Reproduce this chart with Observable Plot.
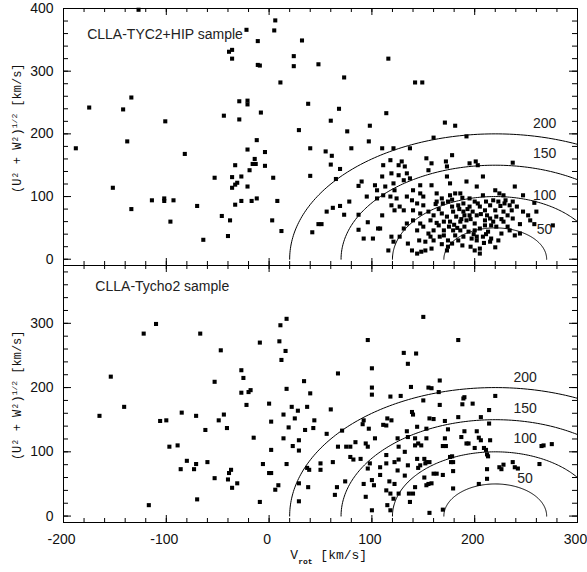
<!DOCTYPE html>
<html>
<head>
<meta charset="utf-8">
<script src="https://cdn.jsdelivr.net/npm/d3@7"></script>
<script src="https://cdn.jsdelivr.net/npm/@observablehq/plot@0.6"></script>
<style>
  html, body { margin: 0; padding: 0; background: #fff; }
  #chart { position: relative; width: 587px; height: 572px; }
  #chart svg { position: absolute; left: 0; }
</style>
</head>
<body>
<div id="chart"></div>
<script>
// ---------- data ----------
const topTitle = "CLLA-TYC2+HIP sample";
const botTitle = "CLLA-Tycho2 sample";
const yLabel = "(U² + W²)1/2 [km/s]";
const xLabel = "Vrot [km/s]";

const xMajor = [-200, -100, 0, 100, 200, 300];
const yMajorTop = [0, 100, 200, 300, 400];
const yMajorBot = [0, 100, 200, 300];

const vLSR = 220;                 // centre of the velocity rings
const ringRadii = [50, 100, 150, 200];
const ringLabels = ["50", "100", "150", "200"];
const topRingLabelU = [48, 102, 168, 216];
const botRingLabelU = [58, 121, 168, 215];

// [V_rot, (U^2+W^2)^1/2] for CLLA-TYC2+HIP sample
const topStars = [
  [-188,177],[-175,242],[-152,114],[-142,239],[-138,188],[-134,258],[-134,80],[-127,398],[-114,94],[-102,97],
  [-102,93],[-101,220],[-96,60],[-93,94],[-82,168],[-70,85],[-64,31],[-53,130],[-46,69],[-44,229],
  [-40,37],[-38,62],[-39,331],[-36,334],[-36,320],[-36,131],[-36,114],[-33,150],[-33,119],[-31,122],
  [-33,87],[-29,252],[-29,223],[-27,132],[-27,93],[-22,366],[-21,253],[-21,247],[-21,175],[-21,116],
  [-19,142],[-17,93],[-16,152],[-14,160],[-13,152],[-12,190],[-12,97],[-11,348],[-11,310],[-9,309],
  [-8,234],[-4,171],[-4,149],[4,130],[3,62],[5,365],[6,381],[8,93],[11,282],[12,45],
  [24,308],[24,324],[29,206],
  [32,349],[48,311],[73,290],[116,320],[142,282],[149,282],[38,248],[68,240],[60,221],[76,204],
  [98,213],[114,233],[97,188],[171,218],[181,213],[160,194],[192,196],[40,177],[55,172],[61,165],
  [80,177],[60,151],[69,144],[40,133],[65,128],[87,117],[90,124],[42,43],[48,56],[51,56],
  [56,76],[62,82],[69,85],[73,71],[78,92],[87,71],[87,47],[92,33],[96,59],[95,100],
  [110,177],[121,177],[137,177],[178,166],
  [111,150],[118,158],[126,150],[129,156],[132,148],[153,161],[158,153],[155,142],[172,156],[173,148],[195,153],[203,150],
  [110,132],[119,137],[126,134],[131,126],[134,137],[137,129],[147,118],[158,118],[173,132],[176,121],[192,124],[202,116],
  [103,118],[105,110],[113,116],[121,121],[122,110],[140,110],[147,105],[150,100],[163,105],[168,97],[176,102],[181,105],[186,105],[195,97],
  [105,97],[111,102],[118,100],[124,97],[134,100],[139,94],[144,89],[150,86],[163,92],[169,89],[174,92],[178,84],[184,86],[189,89],[195,84],[200,92],[203,89],
  [119,86],[122,78],[127,84],[131,78],[140,78],[147,73],[155,76],[160,70],[168,73],[173,68],[179,76],[182,68],[189,76],[195,70],[202,70],[176,60],[186,60],[192,62],[200,57],
  [110,70],[108,49],[131,49],[134,57],[140,62],[147,57],[144,46],[150,52],[155,41],[160,46],[165,54],[166,36],[170,46],[174,30],[179,46],[181,38],[186,46],[189,36],[194,44],[197,33],
  [202,30],[127,36],[119,36],[121,28],[135,25],[139,14],[144,9],[148,12],[152,14],[158,17],[173,14],[174,20],[178,25],[116,14],[101,33],[106,49],
  [237,154],[208,132],[208,102],[220,110],[224,105],[228,102],[239,116],[247,102],[237,92],[258,90],
  [211,92],[218,94],[223,92],[229,89],[234,86],[215,86],[205,84],[210,78],[220,78],[228,76],
  [236,78],[237,65],[247,76],[260,76],[254,62],[258,56],[276,54],[210,62],[215,65],[221,68],
  [228,60],[210,54],[216,54],[205,49],[200,46],[213,44],[221,52],[226,41],[234,46],[239,38],
  [244,41],[202,36],[208,36],[216,33],[223,30],[215,28],[220,19],[200,14],[205,17],[205,9],[201,156],
  [185,80],[190,70],[180,55],[170,60],[165,80],[157,62],[162,88],[178,95],[188,98],[198,76],
  [206,72],[212,70],[225,85],[232,70],[196,64],[183,50],[170,38],[160,30],[152,28],[190,52],
  [163,58],[175,52],[187,64],[193,80],[199,40],[209,26],[184,30],[168,24],[157,36],[146,30],
  [230,94],[241,84],[252,70],[244,56],[232,52],[226,64],[218,60],[211,40],[196,20],[188,22]
];

// [V_rot, (U^2+W^2)^1/2] for CLLA-Tycho2 sample
const botStars = [
  [-165,156],[-154,217],[-141,170],[-122,284],[-117,17],[-110,299],[-106,148],[-100,149],[-97,108],[-89,110],
  [-86,73],[-85,161],[-80,86],[-73,73],[-71,81],[-71,156],[-70,26],[-67,284],[-62,134],[-60,84],
  [-53,209],[-53,59],[-49,149],[-47,258],[-44,158],[-41,137],[-40,57],[-39,67],[-37,72],[-36,44],
  [-31,51],[-27,227],[-27,192],[-25,215],[-22,173],[-20,193],[-18,196],[-15,122],[-9,270],[-9,22],
  [-6,81],[0,175],[0,67],[2,67],[2,147],[2,103],[6,41],[9,48],[10,272],[11,297],
  [12,243],[14,121],[14,158],[16,257],[17,307],[17,198],[17,81],[19,138],[22,170],[23,109],
  [25,152],[28,164],[29,118],[29,102],[29,51],[29,23],
  [34,210],[37,170],[40,191],[35,134],[44,149],[43,137],[37,75],[39,72],[38,45],[50,82],
  [50,72],[56,128],[60,166],[62,84],[67,222],[67,108],[66,45],[64,33],[71,133],[75,108],
  [79,108],[74,54],[79,92],[82,88],[84,115],[89,89],[92,50],[94,30],[96,274],[96,74],
  [92,149],[91,143],[97,136],[94,113],[96,108],[98,82],[100,230],[100,200],[100,189],[103,121],
  [100,9],[100,56],[102,48],[108,76],[108,64],[114,82],[114,40],[115,17],[111,142],[114,141],
  [115,152],[114,95],[118,186],[119,149],[117,54],[118,35],[118,9],[122,84],[122,50],[121,27],
  [125,121],[126,108],[125,71],[126,88],[126,35],[128,187],[131,254],[135,237],[134,132],[132,100],
  [132,63],[135,123],[135,79],[136,35],[137,22],[138,201],[139,162],[140,158],[142,121],[142,110],
  [140,35],[142,45],[143,253],[145,113],[144,139],[144,89],[145,75],[147,79],[148,110],[150,180],
  [150,310],[151,89],[152,82],[153,84],[151,60],[153,136],[153,121],[153,48],[155,50],[155,200],
  [156,5],[158,51],[158,199],[156,152],[160,151],[156,84],[160,66],[163,66],[165,193],[166,211],
  [166,173],[169,10],[169,109],[169,64],[171,121],[171,148],[172,109],[174,135],[176,92],[177,84],
  [178,93],[179,84],[179,43],[179,70],[184,274],[184,154],[188,174],[189,183],[190,185],[187,123],
  [190,132],[192,113],[194,113],[198,175],[200,106],[202,132],[204,122],[206,118],[204,50],[206,154],
  [209,106],[211,103],[212,96],[213,93],[212,58],[212,73],[214,144],[214,165],[215,118],[220,187],
  [224,76],[226,73],[228,80],[237,84],[239,76],[242,74],[263,81],[265,109],[267,110],[275,112]
];

// ---------- layout ----------
const W = 587, mL = 63, mR = 10;
const frameW = W - mL - mR;
const frameH = 257;
const sansFont = "'Liberation Sans', Arial, Helvetica, sans-serif";
const monoFont = "'Liberation Mono', 'Courier New', monospace";

const ringPts = ringRadii.flatMap(r =>
  d3.range(0, 181, 1).map(a => ({r, v: vLSR + r * Math.cos(a * Math.PI / 180), u: r * Math.sin(a * Math.PI / 180)}))
);

function tickMarks(yMinor, yMajor) {
  const xMinor = d3.range(-200, 301, 20);
  return [
    Plot.tickX(xMinor, {x: d => d, insetTop: frameH - 4, stroke: "#000"}),
    Plot.tickX(xMajor, {x: d => d, insetTop: frameH - 7, stroke: "#000"}),
    Plot.tickX(xMinor, {x: d => d, insetBottom: frameH - 4, stroke: "#000"}),
    Plot.tickX(xMajor, {x: d => d, insetBottom: frameH - 7, stroke: "#000"}),
    Plot.tickY(yMinor, {y: d => d, insetRight: frameW - 5, stroke: "#000"}),
    Plot.tickY(yMajor, {y: d => d, insetRight: frameW - 8, stroke: "#000"}),
    Plot.tickY(yMinor, {y: d => d, insetLeft: frameW - 5, stroke: "#000"}),
    Plot.tickY(yMajor, {y: d => d, insetLeft: frameW - 8, stroke: "#000"})
  ];
}

function panel({stars, yDomain, yMajor, height, marginTop, marginBottom, title, titleV, titleU, ringU, ringV, yLabelU, withX}) {
  const yMinor = d3.range(0, yDomain[1] + 1, 20);
  const marks = [
    Plot.line(ringPts, {x: "v", y: "u", z: "r", stroke: "#000", strokeWidth: 1, clip: true}),
    Plot.dot(stars, {x: d => d[0], y: d => d[1], symbol: "square", r: 2.3, fill: "#000"}),
    Plot.frame({stroke: "#000", strokeWidth: 1}),
    ...tickMarks(yMinor, yMajor),
    Plot.axisY({anchor: "left", ticks: yMajor, tickSize: 0, tickPadding: 10, label: null, fontSize: 14, fill: "#111"}),
    Plot.text([title], {x: titleV, y: titleU, textAnchor: "start", fontSize: 14, fill: "#222"}),
    Plot.text(ringLabels, {x: ringV, y: (d, i) => ringU[i], fontSize: 14, fill: "#222"}),
    Plot.text([yLabel], {frameAnchor: "left", y: yLabelU, dx: -46, rotate: -90, textAnchor: "middle", fontFamily: monoFont, fontSize: 12, fill: "#111"})
  ];
  if (withX) {
    marks.push(Plot.axisX({anchor: "bottom", ticks: xMajor, tickFormat: d => String(d), tickSize: 0, tickPadding: 12, dx: -2, label: null, fontSize: 14, fill: "#111"}));
    marks.push(Plot.text([xLabel], {x: 58, frameAnchor: "bottom", dy: 36, textAnchor: "middle", fontFamily: monoFont, fontSize: 13, fill: "#111"}));
  }
  return Plot.plot({
    width: W, height, marginLeft: mL, marginRight: mR, marginTop, marginBottom,
    x: {domain: [-200, 300], axis: null},
    y: {domain: yDomain, axis: null},
    style: {fontFamily: sansFont, fontSize: "14px", background: "transparent", overflow: "visible"},
    marks
  });
}

function rich(svg, plain, parts) {
  svg.querySelectorAll("text").forEach(t => {
    if (t.textContent !== plain) return;
    while (t.firstChild) t.removeChild(t.firstChild);
    for (const [s, kind] of parts) {
      const ts = document.createElementNS("http://www.w3.org/2000/svg", "tspan");
      ts.textContent = s;
      if (kind === "sup") { ts.setAttribute("baseline-shift", "super"); ts.setAttribute("font-size", "8"); }
      if (kind === "sub") { ts.setAttribute("baseline-shift", "sub"); ts.setAttribute("font-size", "8"); ts.setAttribute("font-weight", "bold"); }
      t.appendChild(ts);
    }
  });
}

const topPlot = panel({
  stars: topStars, yDomain: [-10, 400], yMajor: yMajorTop,
  height: 266, marginTop: 8, marginBottom: 1,
  title: topTitle, titleV: -177, titleU: 358,
  ringU: topRingLabelU, ringV: 268, yLabelU: 209, withX: false
});
const botPlot = panel({
  stars: botStars, yDomain: [-10, 390], yMajor: yMajorBot,
  height: 308, marginTop: 1, marginBottom: 50,
  title: botTitle, titleV: -169, titleU: 357,
  ringU: botRingLabelU, ringV: 249, yLabelU: 188, withX: true
});
topPlot.style.top = "0px";
botPlot.style.top = "264px";
const chart = document.getElementById("chart");
chart.appendChild(topPlot);
chart.appendChild(botPlot);
for (const svg of [topPlot, botPlot]) {
  rich(svg, yLabel, [["(U² + W²)"], ["1/2", "sup"], [" [km/s]"]]);
  rich(svg, xLabel, [["V"], ["rot", "sub"], [" [km/s]"]]);
}
</script>
</body>
</html>
